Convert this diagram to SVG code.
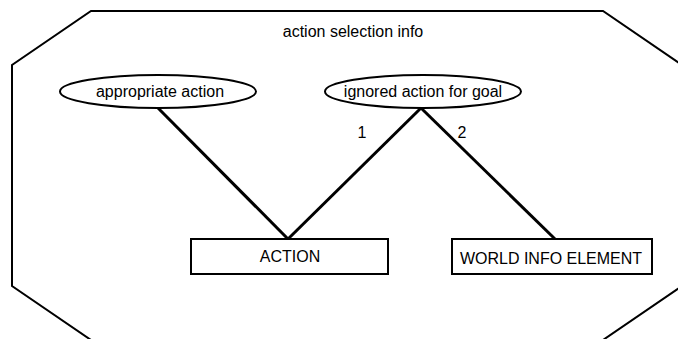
<svg xmlns="http://www.w3.org/2000/svg" width="678" height="339" viewBox="0 0 678 339">
<style>
.t{font-family:"Liberation Sans",Arial,sans-serif;font-size:16px;fill:#000;text-anchor:middle}
.s{fill:#fff;stroke:#000;stroke-width:2}
.c{stroke:#000;stroke-width:3;fill:none}
</style>
<rect width="678" height="339" fill="#fff"/>
<g id="frame">
<polygon class="s" points="91,11 603,11 682,65 682,286 603,340 91,340 12,286 12,65"/>
<text class="t" x="353" y="37">action selection info</text>
</g>
<g id="connectors">
<line class="c" x1="158" y1="108" x2="288" y2="239"/>
<line class="c" x1="421" y1="108" x2="288" y2="239"/>
<line class="c" x1="421" y1="108" x2="555" y2="239"/>
<text class="t" x="362" y="138">1</text>
<text class="t" x="462" y="138">2</text>
</g>
<g id="appropriate-action">
<ellipse class="s" cx="158" cy="91.5" rx="98" ry="16.5"/>
<text class="t" x="160" y="97">appropriate action</text>
</g>
<g id="ignored-action-for-goal">
<ellipse class="s" cx="423" cy="91.5" rx="98" ry="16.5"/>
<text class="t" x="423" y="97">ignored action for goal</text>
</g>
<g id="action">
<rect class="s" x="191" y="239" width="197" height="35"/>
<text class="t" x="290" y="262">ACTION</text>
</g>
<g id="world-info-element">
<rect class="s" x="452" y="239" width="200" height="35"/>
<text class="t" x="551" y="264">WORLD INFO ELEMENT</text>
</g>
</svg>
